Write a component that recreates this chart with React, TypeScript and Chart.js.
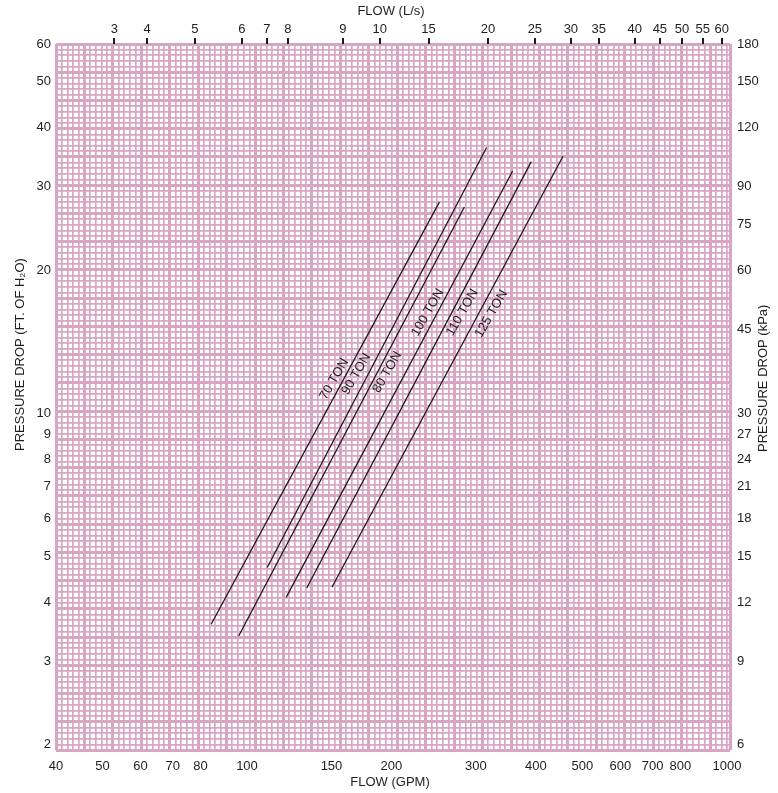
import React, { useEffect, useRef } from 'react';
import { Chart, registerables } from 'chart.js';

Chart.register(...registerables);

// ---------------- data ----------------
// bottom axis: flow (GPM), log scale
const gpmTicks = [40, 50, 60, 70, 80, 100, 150, 200, 300, 400, 500, 600, 700, 800, 1000];
// top axis: flow (L/s) labels, and where each printed label sits on the GPM scale
const lpsTickLabels = ['3', '4', '5', '6', '7', '8', '9', '10', '15', '20', '25', '30', '35', '40', '45', '50', '55', '60'];
const lpsTickAtGpm = [52.9, 61.9, 77.9, 97.6, 110, 121.7, 158.5, 189, 239, 318, 398, 473, 541, 643, 725, 806, 891, 976];
// left axis: pressure drop (ft of water)
const ftTicks = [2, 3, 4, 5, 6, 7, 8, 9, 10, 20, 30, 40, 50, 60];
// right axis: pressure drop (kPa)
const kpaTicks = [6, 9, 12, 15, 18, 21, 24, 27, 30, 45, 60, 75, 90, 120, 150, 180];

const seriesNames = ['70 TON', '90 TON', '80 TON', '100 TON', '110 TON', '125 TON'];
const ton70Flow = [84.2, 251.7];
const ton70Drop = [3.59, 27.85];
const ton90Flow = [110.2, 315.7];
const ton90Drop = [4.73, 36.3];
const ton80Flow = [96.1, 283.8];
const ton80Drop = [3.39, 27.2];
const ton100Flow = [120.7, 357.7];
const ton100Drop = [4.09, 32.4];
const ton110Flow = [133.2, 391.2];
const ton110Drop = [4.28, 33.9];
const ton125Flow = [150.4, 455.5];
const ton125Drop = [4.3, 34.8];

// where each series name is written (in data units)
const labelFlow = [152, 169, 196, 238, 281, 323];
const labelDrop = [11.8, 12.1, 12.2, 16.3, 16.3, 16.2];

const axisTitleTop = 'FLOW (L/s)';
const axisTitleBottom = 'FLOW (GPM)';
const axisTitleLeft = 'PRESSURE DROP (FT. OF H\u2082O)';
const axisTitleRight = 'PRESSURE DROP (kPa)';

// ---------------- styling / layout constants ----------------
const W = 778;
const H = 793;
const FONT = '"Liberation Sans", Arial, Helvetica, sans-serif';
const TEXT = '#1e1e1e';
const PINK = '#d8a6c4';
const X_MIN = 40;
const X_MAX = 1015;
const Y_MIN = 1.95;
const Y_MAX = 60;
const KPA_PER_FT = 3;
const GRID_COLS = 118.5; // graph-paper minor cells across
const GRID_ROWS = 125; // graph-paper minor cells down

const flows = [ton70Flow, ton90Flow, ton80Flow, ton100Flow, ton110Flow, ton125Flow];
const drops = [ton70Drop, ton90Drop, ton80Drop, ton100Drop, ton110Drop, ton125Drop];

function paperTicks(max: number) {
  const t: { value: number }[] = [];
  for (let i = 0; i <= Math.floor(max); i++) t.push({ value: i });
  if (max !== Math.floor(max)) t.push({ value: max });
  return t;
}

const labelsPlugin = {
  id: 'lineLabelsAndTitles',
  afterDatasetsDraw(chart: any) {
    const ctx = chart.ctx;
    const xs = chart.scales.x;
    const ys = chart.scales.y;
    ctx.save();
    ctx.fillStyle = TEXT;
    ctx.font = `13px ${FONT}`;
    ctx.textAlign = 'center';
    ctx.textBaseline = 'middle';
    seriesNames.forEach((name, i) => {
      const px = xs.getPixelForValue(labelFlow[i]);
      const py = ys.getPixelForValue(labelDrop[i]);
      ctx.save();
      ctx.translate(px, py);
      ctx.rotate((-60 * Math.PI) / 180);
      ctx.fillText(name, 0, 0);
      ctx.restore();
    });
    ctx.restore();
  },
  afterDraw(chart: any) {
    const ctx = chart.ctx;
    const { left, right, bottom } = chart.chartArea;
    ctx.save();
    ctx.fillStyle = TEXT;
    ctx.font = `13px ${FONT}`;
    ctx.textBaseline = 'middle';
    ctx.textAlign = 'center';
    const cx = (left + right) / 2;
    ctx.fillText(axisTitleTop, cx - 2, 11);
    ctx.fillText(axisTitleBottom, cx - 3, bottom + 32);
    ctx.textAlign = 'left';
    ctx.save();
    ctx.translate(20, 451);
    ctx.rotate(-Math.PI / 2);
    ctx.fillText(axisTitleLeft, 0, 0);
    ctx.restore();
    ctx.save();
    ctx.translate(763, 452);
    ctx.rotate(-Math.PI / 2);
    ctx.fillText(axisTitleRight, 0, 0);
    ctx.restore();
    ctx.restore();
  },
};

export default function App() {
  const canvasRef = useRef<HTMLCanvasElement | null>(null);

  useEffect(() => {
    const canvas = canvasRef.current;
    if (!canvas) return;
    const tickFont = { family: FONT, size: 13 };

    const chart = new Chart(canvas, {
      type: 'scatter',
      data: {
        datasets: seriesNames.map((name, i) => ({
          label: name,
          data: flows[i].map((f, j) => ({ x: f, y: drops[i][j] })),
          showLine: true,
          borderColor: '#1a1a1a',
          backgroundColor: '#1a1a1a',
          borderWidth: 1.3,
          pointRadius: 0,
          xAxisID: 'x',
          yAxisID: 'y',
        })),
      },
      options: {
        animation: false,
        responsive: false,
        devicePixelRatio: 1,
        layout: { padding: 0 },
        plugins: { legend: { display: false }, tooltip: { enabled: false } },
        scales: {
          gx: {
            type: 'linear',
            position: 'bottom',
            min: 0,
            max: GRID_COLS,
            afterBuildTicks: (s: any) => { s.ticks = paperTicks(GRID_COLS); },
            afterFit: (s: any) => { s.height = 0; },
            ticks: { display: false },
            border: { display: false },
            grid: {
              drawTicks: false,
              color: PINK,
              lineWidth: (c: any) => (c.tick && (c.tick.value % 5 === 0 || c.tick.value === GRID_COLS) ? 3 : 1.7),
            },
          },
          gy: {
            type: 'linear',
            position: 'left',
            min: 0,
            max: GRID_ROWS,
            afterBuildTicks: (s: any) => { s.ticks = paperTicks(GRID_ROWS); },
            afterFit: (s: any) => { s.width = 0; },
            ticks: { display: false },
            border: { display: false },
            grid: {
              drawTicks: false,
              color: PINK,
              lineWidth: (c: any) => (c.tick && c.tick.value % 5 === 0 ? 3 : 1.7),
            },
          },
          x: {
            type: 'logarithmic',
            position: 'bottom',
            min: X_MIN,
            max: X_MAX,
            afterBuildTicks: (s: any) => { s.ticks = gpmTicks.map((v) => ({ value: v })); },
            afterFit: (s: any) => { s.height = H - 750; },
            ticks: {
              callback: (v: any) => String(v),
              font: tickFont,
              color: TEXT,
              padding: 9,
              autoSkip: false,
              maxRotation: 0,
              minRotation: 0,
            },
            grid: { display: false, drawTicks: false },
            border: { display: false },
          },
          x2: {
            type: 'logarithmic',
            position: 'top',
            min: X_MIN,
            max: X_MAX,
            afterBuildTicks: (s: any) => { s.ticks = lpsTickAtGpm.map((v) => ({ value: v })); },
            afterFit: (s: any) => { s.height = 44; },
            ticks: {
              callback: (_v: any, i: number) => lpsTickLabels[i],
              font: tickFont,
              color: TEXT,
              padding: 1,
              autoSkip: false,
              maxRotation: 0,
              minRotation: 0,
            },
            grid: {
              display: true,
              drawOnChartArea: false,
              drawTicks: true,
              tickLength: 6,
              tickWidth: 2,
              color: '#1a1a1a',
              lineWidth: 2,
            },
            border: { display: false },
          },
          y: {
            type: 'logarithmic',
            position: 'left',
            min: Y_MIN,
            max: Y_MAX,
            afterBuildTicks: (s: any) => { s.ticks = ftTicks.map((v) => ({ value: v })); },
            afterFit: (s: any) => { s.width = 56; },
            ticks: {
              callback: (v: any) => String(v),
              font: tickFont,
              color: TEXT,
              padding: 5,
              autoSkip: false,
            },
            grid: { display: false, drawTicks: false },
            border: { display: false },
          },
          y2: {
            type: 'logarithmic',
            position: 'right',
            min: Y_MIN * KPA_PER_FT,
            max: Y_MAX * KPA_PER_FT,
            afterBuildTicks: (s: any) => { s.ticks = kpaTicks.map((v) => ({ value: v })); },
            afterFit: (s: any) => { s.width = W - 730; },
            ticks: {
              callback: (v: any) => String(v),
              font: tickFont,
              color: TEXT,
              padding: 7,
              autoSkip: false,
            },
            grid: { display: false, drawTicks: false },
            border: { display: false },
          },
        },
      } as any,
      plugins: [labelsPlugin],
    });

    return () => chart.destroy();
  }, []);

  return (
    <div style={{ position: 'absolute', left: 0, top: 0, width: W, height: H, background: '#fff' }}>
      <canvas ref={canvasRef} width={W} height={H} style={{ display: 'block' }} />
    </div>
  );
}
